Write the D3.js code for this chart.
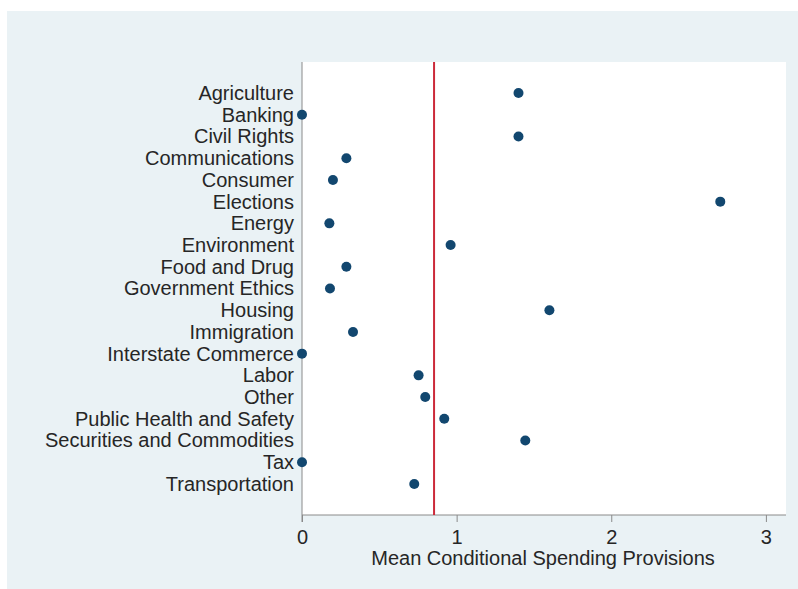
<!DOCTYPE html>
<html lang="en">
<head>
  <meta charset="UTF-8">
  <title>Mean Conditional Spending Provisions</title>
  <script src="https://d3js.org/d3.v7.min.js"></script>
  <style>
    body { margin: 0; background: #fff; font-family: "Liberation Sans", Arial, sans-serif; }
    text { fill: #262626; }
  </style>
</head>
<body>
  <div id="chart"></div>

  <script>
    const categories = ["Agriculture", "Banking", "Civil Rights", "Communications", "Consumer",
      "Elections", "Energy", "Environment", "Food and Drug", "Government Ethics", "Housing",
      "Immigration", "Interstate Commerce", "Labor", "Other", "Public Health and Safety",
      "Securities and Commodities", "Tax", "Transportation"];
    const means = [1.40, 0, 1.40, 0.287, 0.20, 2.705, 0.177, 0.961, 0.287, 0.181, 1.60,
      0.33, 0, 0.754, 0.797, 0.92, 1.444, 0, 0.726];
    const overallMean = 0.854;
    const xTicks = [0, 1, 2, 3];
    const xTitle = "Mean Conditional Spending Provisions";

    const W = 798, H = 589;
    const plot = {left: 302, right: 786, top: 62, bottom: 515};
    const fs = 20;

    const svg = d3.select("#chart").append("svg")
      .attr("width", W).attr("height", H);

    // outer graph region
    svg.append("rect").attr("x", 7).attr("y", 11).attr("width", 791).attr("height", 578)
      .attr("fill", "#eaf2f5");
    svg.append("rect").attr("x", plot.left).attr("y", plot.top)
      .attr("width", plot.right - plot.left).attr("height", plot.bottom - plot.top)
      .attr("fill", "#ffffff");

    const x = d3.scaleLinear().domain([0, 3.13]).range([plot.left, plot.right]);
    const y = d3.scalePoint().domain(categories).range([plot.top, plot.bottom]).padding(1.43);

    const xAxis = svg.append("g")
      .attr("transform", `translate(0,${plot.bottom})`)
      .call(d3.axisBottom(x).tickValues(xTicks).tickSize(7).tickPadding(8).tickFormat(d3.format("d")));
    xAxis.select(".domain").attr("stroke", "#8a8a8a").attr("d", `M${plot.left},0H${plot.right}`);
    xAxis.selectAll(".tick line").attr("stroke", "#8a8a8a");
    xAxis.selectAll(".tick text").attr("font-size", fs).attr("font-family", "Liberation Sans, Arial, sans-serif").attr("fill", "#262626");

    const yAxis = svg.append("g")
      .attr("transform", `translate(${plot.left},0)`)
      .call(d3.axisLeft(y).tickSize(0).tickPadding(8));
    yAxis.select(".domain").attr("stroke", "#8a8a8a").attr("d", `M0,${plot.top}V${plot.bottom + 7}`);
    yAxis.selectAll(".tick text").attr("font-size", fs).attr("font-family", "Liberation Sans, Arial, sans-serif").attr("fill", "#262626");

    svg.append("text")
      .attr("x", (x(0) + x(3.13)) / 2 - 1).attr("y", 565)
      .attr("text-anchor", "middle").attr("font-size", fs)
      .text(xTitle);

    // overall mean line
    svg.append("line")
      .attr("x1", x(overallMean)).attr("x2", x(overallMean))
      .attr("y1", plot.top).attr("y2", plot.bottom)
      .attr("stroke", "#cc2a3a").attr("stroke-width", 2);

    svg.selectAll(".dot")
      .data(categories.map((c, i) => ({c, v: means[i]})))
      .enter().append("circle")
      .attr("class", "dot")
      .attr("cx", d => x(d.v))
      .attr("cy", d => y(d.c))
      .attr("r", 5)
      .attr("fill", "#12476f");
  </script>
</body>
</html>
